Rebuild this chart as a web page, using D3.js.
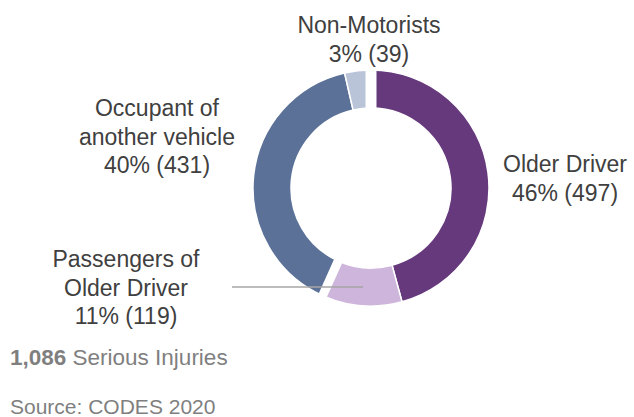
<!DOCTYPE html>
<html>
<head>
<meta charset="utf-8">
<script src="https://cdn.jsdelivr.net/npm/d3@7"></script>
<style>
  body { margin: 0; background: #fff; }
  svg { font-family: "Liberation Sans", Arial, sans-serif; }
</style>
</head>
<body>
<svg id="chart" width="634" height="417"></svg>
<script>
// data
const categories = ['Older Driver', 'Passengers of Older Driver', 'Occupant of another vehicle', 'Non-Motorists'];
const counts = [497, 119, 431, 39];
const percents = ['46%', '11%', '40%', '3%'];
const colors = ['#65397c', '#cdb5dc', '#5b7197', '#b9c4d8'];
const labelLines = [
  ['Older Driver'],
  ['Passengers of', 'Older Driver'],
  ['Occupant of', 'another vehicle'],
  ['Non-Motorists']
];
const total = d3.sum(counts);

const svg = d3.select('#chart');
const cx = 371, cy = 188;
const outerR = 118, innerR = 80;

const pie = d3.pie().sort(null).value(d => d)(counts);
const arc = d3.arc().innerRadius(innerR).outerRadius(outerR);

const g = svg.append('g').attr('transform', `translate(${cx},${cy})`);

g.selectAll('path.slice')
  .data(pie)
  .enter()
  .append('path')
  .attr('class', 'slice')
  .attr('d', arc)
  .attr('fill', (d, i) => colors[i])
  .attr('stroke', '#fff')
  .attr('stroke-width', 1.5);

// wider white gaps (exploded points) at the start and between passengers / occupant
const gapAngles = [pie[0].startAngle, pie[1].endAngle];
const gapWidths = [11, 9];
gapAngles.forEach((a, i) => {
  g.append('line')
    .attr('x1', 0).attr('y1', 0)
    .attr('x2', (outerR + 4) * Math.sin(a))
    .attr('y2', -(outerR + 4) * Math.cos(a))
    .attr('stroke', '#fff')
    .attr('stroke-width', gapWidths[i]);
});

// leader line for the passengers slice
svg.append('line')
  .attr('x1', 232).attr('y1', 287)
  .attr('x2', 363).attr('y2', 287)
  .attr('stroke', '#a6a6a6')
  .attr('stroke-width', 1.5);

// label placement (x centre, first baseline)
const labelPos = [[565, 172], [126, 267], [157, 116], [369, 33]];
const lineH = 28.5;

labelPos.forEach((p, i) => {
  const lines = labelLines[i].concat([`${percents[i]} (${counts[i]})`]);
  const t = svg.append('text')
    .attr('x', p[0])
    .attr('y', p[1])
    .attr('text-anchor', 'middle')
    .attr('fill', '#404040')
    .style('font-size', '23px');
  lines.forEach((s, j) => {
    t.append('tspan')
      .attr('x', p[0])
      .attr('dy', j === 0 ? 0 : lineH)
      .text(s);
  });
});

const totalText = svg.append('text')
  .attr('x', 10).attr('y', 365)
  .attr('fill', '#7f7f7f')
  .style('font-size', '22.5px');
totalText.append('tspan').attr('font-weight', 'bold').text(d3.format(',')(total));
totalText.append('tspan').text(' Serious Injuries');

svg.append('text')
  .attr('x', 10).attr('y', 414)
  .attr('fill', '#7f7f7f')
  .style('font-size', '21px')
  .text('Source: CODES 2020');
</script>
</body>
</html>
